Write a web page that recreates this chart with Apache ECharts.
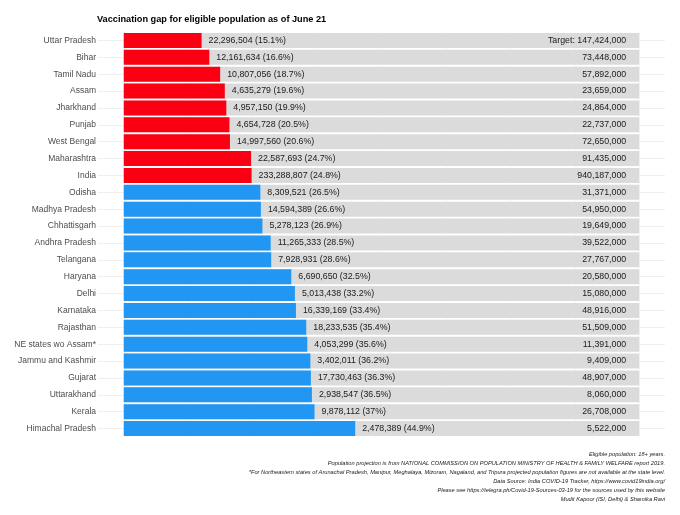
<!DOCTYPE html>
<html>
<head>
<meta charset="utf-8">
<script src="https://cdn.jsdelivr.net/npm/echarts@6/dist/echarts.min.js"></script>
<style>html,body{margin:0;padding:0;background:#fff}#c{width:680px;height:515px}</style>
</head>
<body>
<div id="c"></div>
<script>
var states = ['Uttar Pradesh','Bihar','Tamil Nadu','Assam','Jharkhand','Punjab','West Bengal','Maharashtra','India','Odisha','Madhya Pradesh','Chhattisgarh','Andhra Pradesh','Telangana','Haryana','Delhi','Karnataka','Rajasthan','NE states wo Assam*','Jammu and Kashmir','Gujarat','Uttarakhand','Kerala','Himachal Pradesh'];
var vaccinated = [22296504,12161634,10807056,4635279,4957150,4654728,14997560,22587693,233288807,8309521,14594389,5278123,11265333,7928931,6690650,5013438,16339169,18233535,4053299,3402011,17730463,2938547,9878112,2478389];
var pct = [15.1,16.6,18.7,19.6,19.9,20.5,20.6,24.7,24.8,26.5,26.6,26.9,28.5,28.6,32.5,33.2,33.4,35.4,35.6,36.2,36.3,36.5,37,44.9];
var target = [147424000,73448000,57892000,23659000,24864000,22737000,72650000,91435000,940187000,31371000,54950000,19649000,39522000,27767000,20580000,15080000,48916000,51509000,11391000,9409000,48907000,8060000,26708000,5522000];
var gridSteps = [0,12.5,25,37.5,50,62.5,75,87.5,100];
var threshold = 25;
var footnote = [
  'Eligible population: 18+ years.',
  'Population projection is from NATIONAL COMMISSION ON POPULATION MINISTRY OF HEALTH & FAMILY WELFARE report 2019.',
  '*For Northeastern states of Arunachal Pradesh, Manipur, Meghalaya, Mizoram, Nagaland, and Tripura projected population figures are not available at the state level.',
  'Data Source: India COVID-19 Tracker, https://www.covid19india.org/',
  'Please see https://telegra.ph/Covid-19-Sources-03-19 for the sources used by this website',
  'Mudit Kapoor (ISI, Delhi) & Shamika Ravi'
];

var FONT = '"Liberation Sans Narrow","Arial Narrow","Liberation Sans",Arial,sans-serif';
function fmt(n){ return n.toLocaleString('en-US'); }

var chart = echarts.init(document.getElementById('c'));
chart.setOption({
  animation: false,
  backgroundColor: '#fff',
  textStyle: { fontFamily: FONT },
  title: {
    text: 'Vaccination gap for eligible population as of June 21',
    left: 97, top: 15, padding: 0,
    textStyle: { fontFamily: FONT, fontSize: 9.2, fontWeight: 'bold', color: '#000' }
  },
  graphic: [{
    type: 'text', right: 15, top: 450, silent: true,
    style: {
      text: footnote.join('\n'), textAlign: 'right',
      font: 'italic 5.7px ' + FONT, fill: '#1a1a1a', lineHeight: 8.9
    }
  }],
  grid: { left: 98, right: 15, top: 32, bottom: 78, containLabel: false, outerBoundsMode: 'none' },
  xAxis: {
    type: 'value', min: -5, max: 105,
    axisLine: { show: false }, axisTick: { show: false }, axisLabel: { show: false },
    splitLine: { show: false }
  },
  yAxis: {
    type: 'category', data: states, inverse: true,
    axisLine: { show: false, onZero: false },
    axisTick: { show: true, alignWithLabel: true, inside: true, length: 567, lineStyle: { color: '#efefef', width: 1 } },
    axisLabel: { fontFamily: FONT, fontSize: 8.5, color: '#4d4d4d', margin: 2 },
    splitLine: { show: false }
  },
  series: [{
    name: 'target', type: 'bar', barCategoryGap: '11%',
    data: target.map(function(){ return 100; }),
    itemStyle: { color: '#dbdbdb' },
    silent: true,
    label: {
      show: true, position: 'insideRight', distance: 13,
      fontFamily: FONT, fontSize: 8.8, color: '#1a1a1a',
      formatter: function(p){ return (p.dataIndex === 0 ? 'Target: ' : '') + fmt(target[p.dataIndex]); }
    },
    markLine: {
      silent: true, symbol: 'none', z: 0,
      label: { show: false },
      lineStyle: { color: '#f0f0f0', width: 0.6, type: 'solid' },
      data: gridSteps.map(function(v){ return { xAxis: v }; })
    },
    z: 2
  }, {
    name: 'gap', type: 'bar', barGap: '-100%', barCategoryGap: '11%',
    data: pct.map(function(v){ return { value: v, itemStyle: { color: v < threshold ? '#fb0012' : '#2196f3' } }; }),
    label: {
      show: true, position: 'right', distance: 7,
      fontFamily: FONT, fontSize: 8.8, color: '#1a1a1a',
      formatter: function(p){ return fmt(vaccinated[p.dataIndex]) + ' (' + pct[p.dataIndex] + '%)'; }
    },
    z: 3
  }]
});
</script>
</body>
</html>
